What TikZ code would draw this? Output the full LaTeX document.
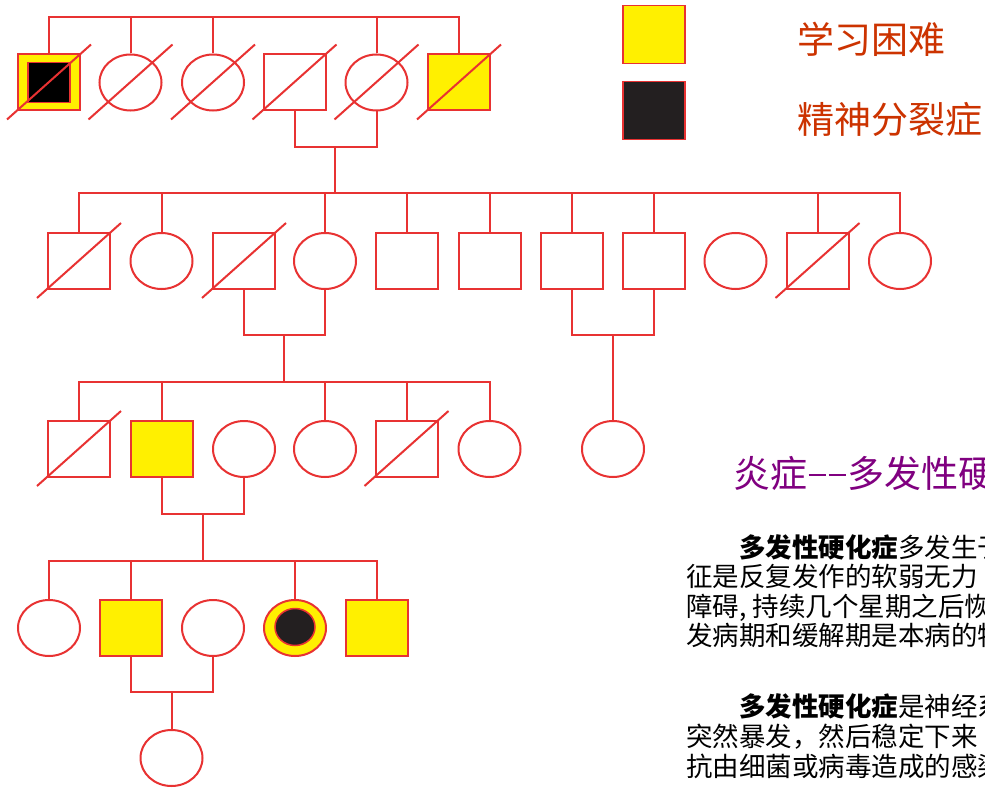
\documentclass[tikz,border=0pt]{standalone}
\usepackage{fontspec}
\setmainfont{Noto Sans CJK SC}
\usetikzlibrary{shapes.geometric}
\definecolor{pedred}{RGB}{232,50,50}
\definecolor{ldyellow}{RGB}{255,240,0}
\definecolor{sczblack}{RGB}{35,31,32}
\definecolor{legtext}{RGB}{204,51,0}
\definecolor{titlepurple}{RGB}{128,0,128}
\newcommand\deadmark[1]{\draw[pedline] ([shift={(-42,37)}]#1.center) -- ([shift={(42,-38)}]#1.center);}
\newcommand\halfhyph{\makebox[0.54em]{\rule[0.3em]{0.46em}{0.06em}}}
\begin{document}
\begin{tikzpicture}[x=1pt,y=-1pt,
  pedline/.style={draw=pedred, line width=2pt},
  male/.style={rectangle, draw=pedred, line width=2pt, minimum width=62pt, minimum height=56pt, inner sep=0pt, fill=white},
  female/.style={ellipse, draw=pedred, line width=2pt, minimum width=62pt, minimum height=56pt, inner sep=0pt, fill=white},
  ld/.style={fill=ldyellow},
  innersq/.style={rectangle, draw=pedred, line width=1.5pt, fill=black, minimum width=42pt, minimum height=40pt, inner sep=0pt},
  innerci/.style={ellipse, draw=pedred, line width=1.5pt, fill=sczblack, minimum width=40pt, minimum height=37pt, inner sep=0pt},
  legbox/.style={rectangle, draw=pedred, line width=1.5pt, minimum width=62pt, minimum height=58pt, inner sep=0pt},
  legtxt/.style={anchor=base west, inner sep=0pt, text=legtext, font=\fontsize{37}{40}\selectfont},
  bodytxt/.style={anchor=base west, inner sep=0pt, text=black, font=\fontsize{26.5}{30}\selectfont}]
\useasboundingbox (0,0) rectangle (985,789);
\clip (0,0) rectangle (985,789);
\fill[white] (0,0) rectangle (985,789);

% Generation I
\node[male, ld] (I1) at (49,82.5) {};
\node[innersq] (I1in) at (49,82.5) {};
\node[female] (I2) at (130.5,82.5) {};
\node[female] (I3) at (213,82.5) {};
\node[male] (I4) at (294.5,82.5) {};
\node[female] (I5) at (376.5,82.5) {};
\node[male, ld] (I6) at (459,82.5) {};
\coordinate (sibI) at (0,17);
\draw[pedline] (I1.north) -- (I1.north |- sibI) -- (I6.north |- sibI) -- (I6.north);
\foreach \n in {I2,I3,I5} \draw[pedline] (\n.north) -- (\n.north |- sibI);
\coordinate (matI) at (0,147);
\draw[pedline] (I4.south) -- (I4.south |- matI) -- (I5.south |- matI) -- (I5.south);
\coordinate (dropI) at (335,147);
\coordinate (sibII) at (0,193);
\draw[pedline] (dropI) -- (dropI |- sibII);
\foreach \n in {I1,I2,I3,I4,I5,I6} {\deadmark{\n}}

% Generation II
\node[male] (II1) at (79,261) {};
\node[female] (II2) at (161.5,261) {};
\node[male] (II3) at (244,261) {};
\node[female] (II4) at (325,261) {};
\node[male] (II5) at (406.5,261) {};
\node[male] (II6) at (489.5,261) {};
\node[male] (II7) at (571.5,261) {};
\node[male] (II8) at (654,261) {};
\node[female] (II9) at (735.5,261) {};
\node[male] (II10) at (817.5,261) {};
\node[female] (II11) at (900,261) {};
\draw[pedline] (II1.north) -- (II1.north |- sibII) -- (II11.north |- sibII) -- (II11.north);
\foreach \n in {II2,II4,II5,II6,II7,II8,II10} \draw[pedline] (\n.north) -- (\n.north |- sibII);
\coordinate (matII) at (0,335);
\draw[pedline] (II3.south) -- (II3.south |- matII) -- (II4.south |- matII) -- (II4.south);
\draw[pedline] (II7.south) -- (II7.south |- matII) -- (II8.south |- matII) -- (II8.south);
\coordinate (dropIIa) at (284,335);
\coordinate (dropIIb) at (613,335);
\coordinate (sibIII) at (0,382);
\draw[pedline] (dropIIa) -- (dropIIa |- sibIII);
\foreach \n in {II1,II3,II10} {\deadmark{\n}}

% Generation III
\node[male] (III1) at (79,449) {};
\node[male, ld] (III2) at (161.5,449) {};
\node[female] (III3) at (244,449) {};
\node[female] (III4) at (325,449) {};
\node[male] (III5) at (406.5,449) {};
\node[female] (III6) at (489.5,449) {};
\node[female] (III7) at (613,449) {};
\draw[pedline] (dropIIb) -- (III7.north);
\draw[pedline] (III1.north) -- (III1.north |- sibIII) -- (III6.north |- sibIII) -- (III6.north);
\foreach \n in {III2,III4,III5} \draw[pedline] (\n.north) -- (\n.north |- sibIII);
\coordinate (matIII) at (0,514);
\draw[pedline] (III2.south) -- (III2.south |- matIII) -- (III3.south |- matIII) -- (III3.south);
\coordinate (dropIII) at (203,514);
\coordinate (sibIV) at (0,561);
\draw[pedline] (dropIII) -- (dropIII |- sibIV);
\foreach \n in {III1,III5} {\deadmark{\n}}

% Generation IV
\node[female] (IV1) at (49,628) {};
\node[male, ld] (IV2) at (130.5,628) {};
\node[female] (IV3) at (213,628) {};
\node[female, ld] (IV4) at (295,628) {};
\node[innerci] (IV4in) at (295,627) {};
\node[male, ld] (IV5) at (376.5,628) {};
\draw[pedline] (IV1.north) -- (IV1.north |- sibIV) -- (IV5.north |- sibIV) -- (IV5.north);
\foreach \n in {IV2,IV4} \draw[pedline] (\n.north) -- (\n.north |- sibIV);
\coordinate (matIV) at (0,692);
\draw[pedline] (IV2.south) -- (IV2.south |- matIV) -- (IV3.south |- matIV) -- (IV3.south);

% Generation V
\node[female] (V1) at (171.5,758) {};
\coordinate (dropIV) at (171.5,692);
\draw[pedline] (dropIV) -- (V1.north);

% Legend
\node[legbox, fill=ldyellow] (legLD) at (654,34.5) {};
\node[legbox, fill=sczblack] (legSZ) at (654,110.5) {};
\node[legtxt] (legLDt) at (797,54) {学习困难};
\node[legtxt] (legSZt) at (797,133.5) {精神分裂症};

% Text block
\node[anchor=base west, inner sep=0pt, text=titlepurple, font=\fontsize{37}{40}\selectfont] (title) at (733,487) {炎症\halfhyph\halfhyph 多发性硬化症};
\node[bodytxt] (p1l1) at (686,557) {\hspace{2em}{\bfseries 多发性硬化症}多发生于};
\node[bodytxt] (p1l2) at (686,586) {征是反复发作的软弱无力};
\node[bodytxt] (p1l3) at (686,616) {障碍, 持续几个星期之后恢};
\node[bodytxt] (p1l4) at (686,645.5) {发病期和缓解期是本病的特};
\node[bodytxt] (p2l1) at (686,716) {\hspace{2em}{\bfseries 多发性硬化症}是神经系};
\node[bodytxt] (p2l2) at (686,746) {突然暴发，然后稳定下来};
\node[bodytxt] (p2l3) at (686,776) {抗由细菌或病毒造成的感染};
\end{tikzpicture}
\end{document}
